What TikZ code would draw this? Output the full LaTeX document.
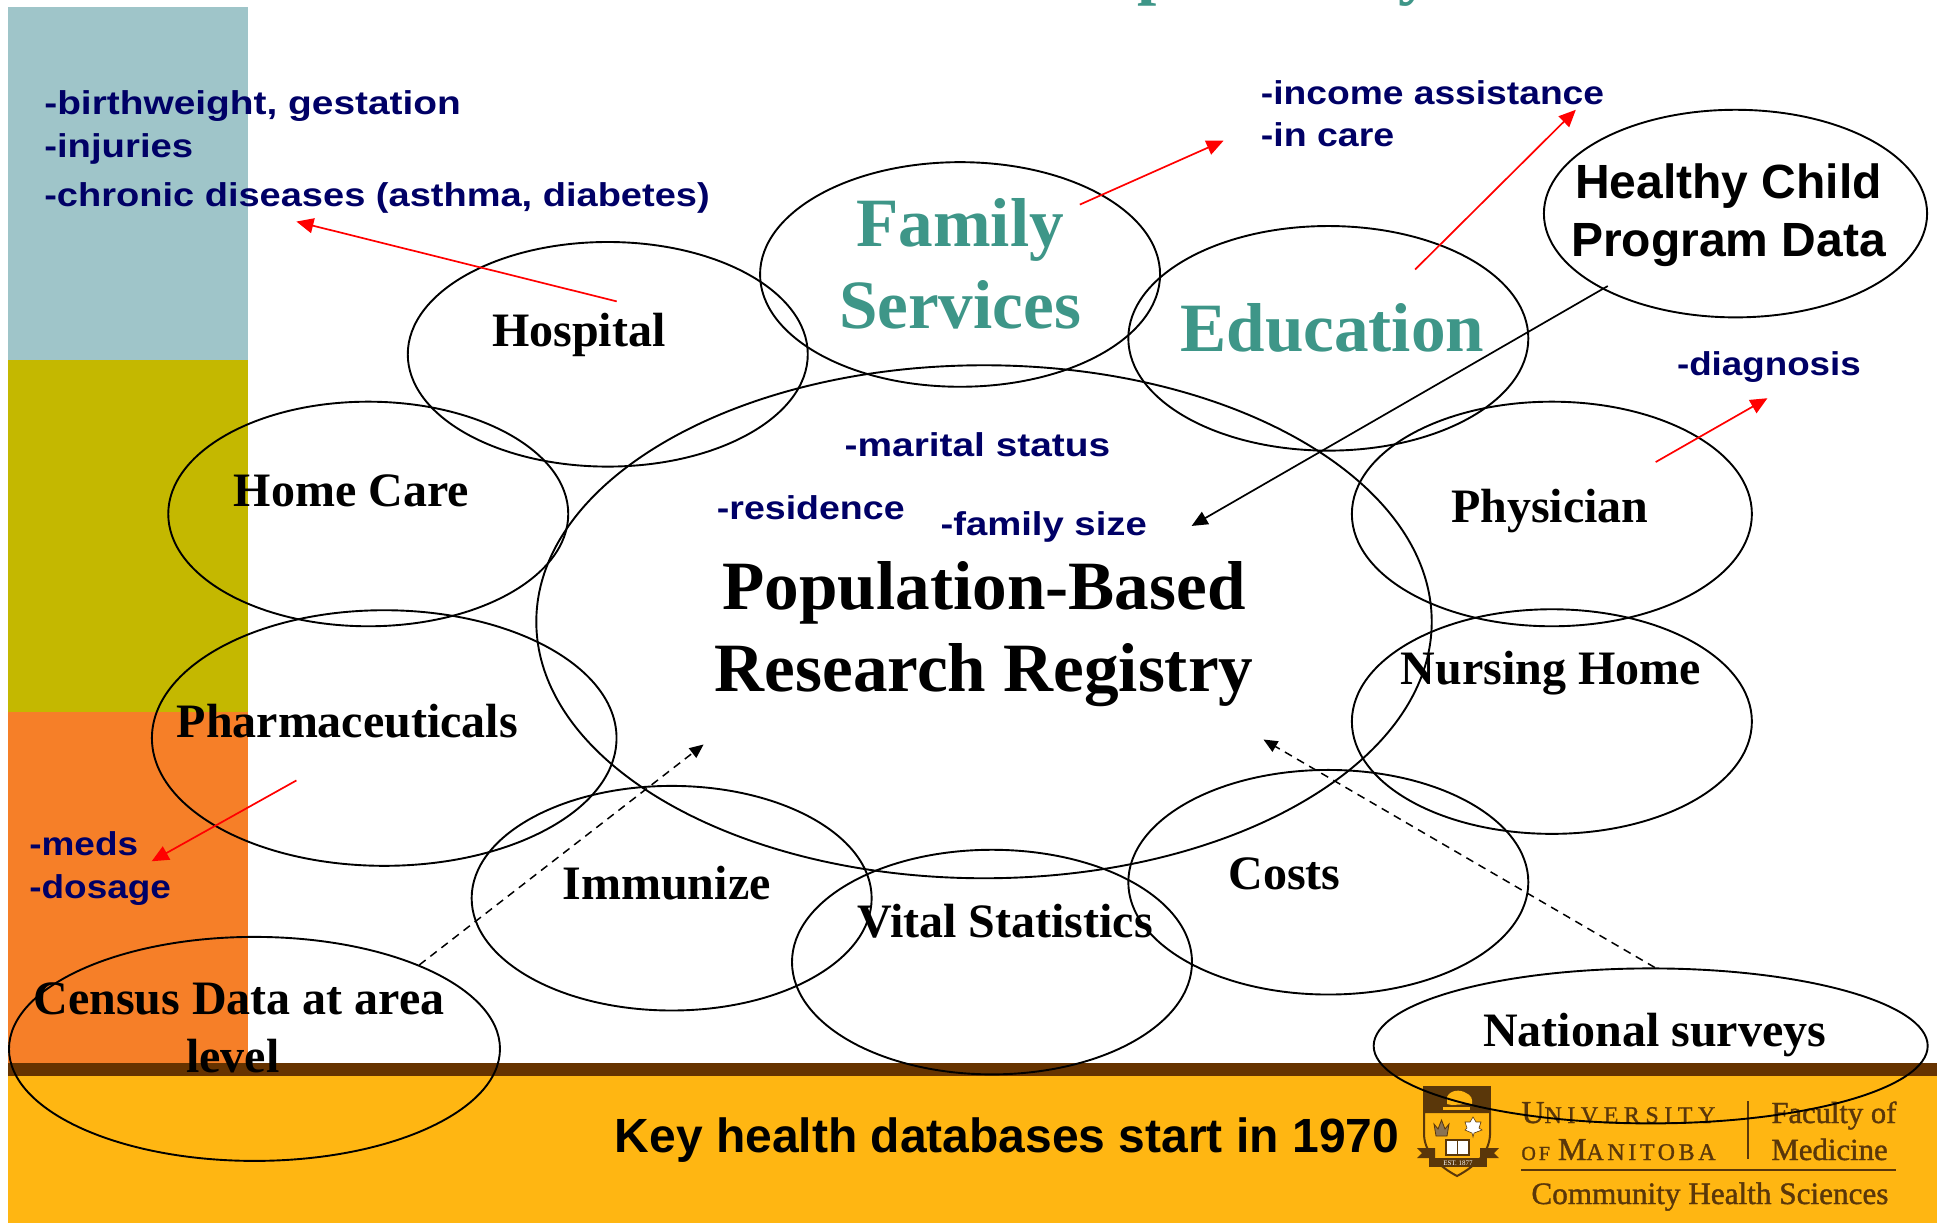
\documentclass[tikz,border=0pt]{standalone}
\usepackage{fontspec}
\usepackage{graphicx}
\usetikzlibrary{shapes.geometric,arrows.meta}
\setmainfont{Liberation Serif}
\setsansfont{Liberation Sans}
\newfontfamily\blf[FakeStretch=1.16]{Liberation Sans}
\newfontfamily\logoA[LetterSpace=23,FakeBold=1.2]{Liberation Serif}
\newfontfamily\logoB[LetterSpace=15,FakeBold=1.2]{Liberation Serif}
\newfontfamily\logoC[FakeBold=1.2]{Liberation Serif}
\newcommand\hs[2]{\scalebox{#1}[1]{#2}}
\definecolor{tealbg}{HTML}{9FC5C9}
\definecolor{olivebg}{HTML}{C4B800}
\definecolor{orangebg}{HTML}{F67F28}
\definecolor{yellowbg}{HTML}{FFB612}
\definecolor{brownbar}{HTML}{663300}
\definecolor{bluetxt}{HTML}{000066}
\definecolor{tealtxt}{HTML}{3E9688}
\definecolor{logobrown}{HTML}{5A370A}
\tikzset{
  oval/.style={draw=black,ellipse,line width=0.95pt,inner sep=0pt,minimum width=200pt,minimum height=112.3pt},
  bigser/.style={font=\fontsize{34.6}{41}\selectfont\bfseries,align=center,inner sep=0pt},
  midser/.style={font=\fontsize{24}{29}\selectfont\bfseries,align=center,inner sep=0pt},
  sanslab/.style={font=\fontsize{24}{29}\selectfont\sffamily\bfseries,align=center,inner sep=0pt},
  bluelab/.style={font=\fontsize{16.5}{20}\selectfont\blf\bfseries,text=bluetxt,anchor=west,inner sep=0pt},
  redarrow/.style={draw=red,line width=0.85pt,-{Triangle[length=8.5pt,width=7.5pt]}},
  blackarrow/.style={draw=black,line width=0.85pt,-{Triangle[length=8pt,width=7pt]}},
  dasharrow/.style={draw=black,line width=0.75pt,dash pattern=on 4pt off 3pt,-{Triangle[length=7pt,width=6pt]}},
  logotxt/.style={text=logobrown,anchor=base west,inner sep=0pt},
}
\begin{document}
\begin{tikzpicture}[x=0.5pt,y=-0.5pt]
\useasboundingbox (0,0) rectangle (1937,1223);
\fill[white] (0,0) rectangle (1937,1223);
% side bars and footer
\fill[tealbg] (8,7) rectangle (248,360);
\fill[olivebg] (8,360) rectangle (248,712);
\fill[orangebg] (8,712) rectangle (248,1063);
\fill[yellowbg] (8,1076) rectangle (1937,1223);
\fill[brownbar] (8,1063) rectangle (1937,1076);
% cut title fragments
\begin{scope}
\clip (0,0) rectangle (1937,10);
\node[bigser,text=tealtxt,anchor=base] (titlep) at (1157,-9) {p};
\node[bigser,text=tealtxt,anchor=base] (titley) at (1416,-9) {y};
\end{scope}
% logo crest
\fill[logobrown] (1423,1086) rectangle (1491,1113);
\fill[yellowbg,draw=logobrown,line width=1pt] (1424,1112) -- (1490,1112) -- (1490,1135) .. controls (1489,1155) and (1472,1168) .. (1457,1176) .. controls (1442,1168) and (1425,1155) .. (1424,1135) -- cycle;
\fill[yellowbg] (1447,1097) .. controls (1450,1090) and (1460,1089) .. (1466,1093) .. controls (1471,1095) and (1473,1099) .. (1472,1105) -- (1468,1104) -- (1452,1105) -- (1447,1104) -- cycle;
\fill[yellowbg] (1443,1107) rectangle (1470,1110);
\fill[logobrown] (1417,1148) -- (1435,1148) -- (1435,1158) -- (1417,1158) -- (1422,1153) -- cycle;
\fill[logobrown] (1480,1148) -- (1499,1148) -- (1494,1153) -- (1499,1158) -- (1480,1158) -- cycle;
\fill[logobrown] (1429,1158) rectangle (1487,1167);
\node[text=white,inner sep=0pt,font=\fontsize{3.5}{4}\selectfont] (crestest) at (1458,1163) {EST. 1877};
\fill[white,draw=logobrown,line width=0.8pt] (1446,1140) rectangle (1469,1155);
\draw[logobrown,line width=0.6pt] (1457.5,1140) -- (1457.5,1155);
\fill[logobrown!70!white,draw=logobrown] (1434,1124) -- (1438,1129) -- (1441.5,1120) -- (1445,1129) -- (1449,1124) -- (1447,1136) -- (1436,1136) -- cycle;
\fill[white,draw=logobrown,line width=0.3pt] (1473,1117) -- (1476,1122) -- (1481,1122) -- (1479,1128) -- (1482,1130) -- (1474,1133) -- (1473,1137) -- (1472,1133) -- (1465,1130) -- (1467,1128) -- (1465,1122) -- (1470,1122) -- cycle;
% logo text
\node[logotxt] (lu) at (1521,1123) {\logoA\fontsize{16}{16}\selectfont U{\fontsize{12}{12}\selectfont NIVERSITY}};
\node[logotxt] (lm) at (1521,1160) {\logoB{\fontsize{10}{10}\selectfont OF }{\fontsize{16}{16}\selectfont M}{\fontsize{12}{12}\selectfont ANITOBA}};
\node[logotxt,font=\fontsize{15.3}{16}\selectfont\logoC] (lf) at (1771,1123) {Faculty of};
\node[logotxt,font=\fontsize{15.4}{16}\selectfont\logoC] (lmed) at (1771,1160) {Medicine};
\node[logotxt,font=\fontsize{15.6}{16}\selectfont\logoC] (lc) at (1531,1204) {Community Health Sciences};
\draw[logobrown,line width=0.6pt] (1748,1101) -- (1748,1159);
\draw[logobrown,line width=0.8pt] (1521,1170) -- (1896,1170);
\begin{scope}[x=0.499pt,y=-0.499pt]
% ellipses
\node[oval,minimum width=447.7pt,minimum height=256.5pt] (main) at (986,623) {};
\node[oval] (hospital) at (609,355) {};
\node[oval] (family) at (962,275) {};
\node[oval] (education) at (1331,339) {};
\node[oval,minimum width=191.6pt,minimum height=103.8pt] (healthy) at (1739,214) {};
\node[oval] (physician) at (1555,515) {};
\node[oval] (nursing) at (1555,723) {};
\node[oval] (costs) at (1331,884) {};
\node[oval] (vital) at (994,964) {};
\node[oval] (immunize) at (673,900) {};
\node[oval,minimum width=245.5pt,minimum height=112pt] (census) at (255,1051) {};
\node[oval,minimum width=277pt,minimum height=77.5pt] (national) at (1654,1048) {};
\node[oval,minimum width=232.3pt,minimum height=127.8pt] (pharma) at (385,739.5) {};
\node[oval] (homecare) at (369,515) {};
% free ends
\coordinate (ehospital) at (297,222);
\coordinate (efamily) at (1226,141);
\coordinate (eeducation) at (1579,110);
\coordinate (ephysician) at (1771,399);
\coordinate (epharma) at (152,863);
\coordinate (ehealthy) at (1194,527);
\coordinate (ecensus) at (705,746);
\coordinate (enational) at (1266,741);
\coordinate (shospital) at (618,302);
\coordinate (sfamily) at (1082,205);
\coordinate (seducation) at (1418,270);
\coordinate (sphysician) at (1659,463);
\coordinate (spharma) at (297,782);
\coordinate (shealthy) at (1611,286.6);
% connectors
\draw[redarrow] (shospital) -- (ehospital);
\draw[redarrow] (sfamily) -- (efamily);
\draw[redarrow] (seducation) -- (eeducation);
\draw[redarrow] (sphysician) -- (ephysician);
\draw[redarrow] (spharma) -- (epharma);
\draw[blackarrow] (shealthy) -- (ehealthy);
\draw[dasharrow] (census.27) -- (ecensus);
\draw[dasharrow] (national.87) -- (enational);
% labels
\node[bigser,text=black] (tmain) at (986,635) {Population-Based\\Research Registry};
\node[bigser,text=tealtxt] (tfamily) at (962,264) {Family\\Services};
\node[bigser,text=tealtxt] (teducation) at (1335,329) {Education};
\node[sanslab] (thealthy) at (1732,216) {Healthy Child\\Program Data};
\node[sanslab] (tkey) at (1009,1142) {Key health databases start in 1970};
\node[midser] (thospital) at (580,336) {Hospital};
\node[midser] (tphysician) at (1553,512) {Physician};
\node[midser] (tnursing) at (1554,674) {Nursing Home};
\node[midser] (tcosts) at (1287,876) {Costs};
\node[midser] (tvital) at (1007,923) {Vital Statistics};
\node[midser] (timmunize) at (668,885) {Immunize};
\node[midser] (tcensus) at (239.5,1030) {Census Data at area\\level\hspace*{6.2pt}};
\node[midser] (tnational) at (1658,1037) {National surveys};
\node[midser] (tpharma) at (348,723) {Pharmaceuticals};
\node[midser] (thomecare) at (352,492) {Home Care};
\node[bluelab] (b1) at (44,106) {\hs{1.015}{-birthweight, gestation}};
\node[bluelab] (b2) at (44,149) {-injuries};
\node[bluelab] (b3) at (44,198) {\hs{0.993}{-chronic diseases (asthma, diabetes)}};
\node[bluelab] (b4) at (1263,93) {\hs{0.972}{-income assistance}};
\node[bluelab] (b5) at (1263,135) {\hs{0.98}{-in care}};
\node[bluelab] (b6) at (1680,368) {\hs{0.96}{-diagnosis}};
\node[bluelab] (b7) at (846,446) {\hs{1.015}{-marital status}};
\node[bluelab] (b8) at (718,509) {\hs{0.98}{-residence}};
\node[bluelab] (b9) at (942,528) {-family size};
\node[bluelab] (b10) at (29,845) {\hs{0.965}{-meds}};
\node[bluelab] (b11) at (29,892) {\hs{0.965}{-dosage}};
\end{scope}
\end{tikzpicture}
\end{document}
